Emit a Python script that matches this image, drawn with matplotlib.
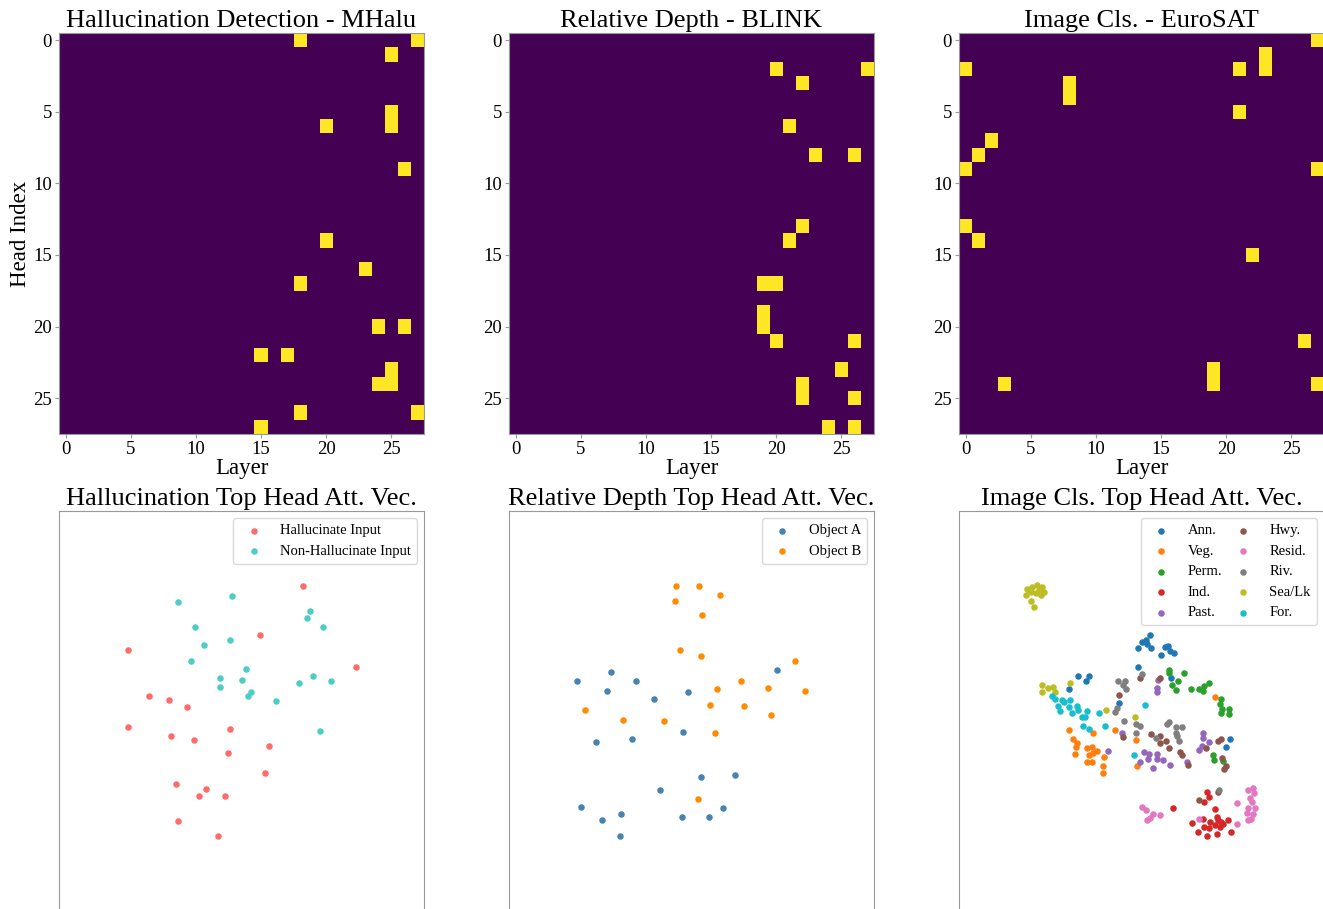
import numpy as np
import matplotlib
matplotlib.use('Agg')
import matplotlib.pyplot as plt

plt.rcParams['font.family'] = ['Liberation Serif', 'DejaVu Serif']

# ---------------- heatmap data: (head, layer) cells that are selected
n_layers = 28
n_heads = 28

mhalu_cells = [(0, 18), (0, 27), (1, 25), (5, 25), (6, 25), (6, 20), (9, 26),
               (14, 20), (16, 23), (17, 18), (20, 24), (20, 26), (22, 15),
               (22, 17), (23, 25), (24, 25), (24, 24), (26, 18), (26, 27),
               (27, 15)]
blink_cells = [(2, 20), (2, 27), (3, 22), (6, 21), (8, 23), (8, 26), (13, 22),
               (14, 21), (17, 19), (17, 20), (19, 19), (20, 19), (21, 20),
               (21, 26), (23, 25), (24, 22), (25, 22), (25, 26), (27, 24),
               (27, 26)]
eurosat_cells = [(0, 27), (2, 0), (2, 21), (1, 23), (2, 23), (3, 8), (4, 8),
                 (5, 21), (7, 2), (8, 1), (9, 0), (9, 27), (13, 0), (14, 1),
                 (15, 22), (21, 26), (23, 19), (24, 19), (24, 3), (24, 27)]

heat_titles = ['Hallucination Detection - MHalu', 'Relative Depth - BLINK',
               'Image Cls. - EuroSAT']

# ---------------- scatter data (2-D embedding coordinates)
hal_x = [745, 615, 218, 902, 282, 341, 397, 218, 526, 348, 417, 642, 520, 629, 362, 454, 433, 509, 369, 490]
hal_y = [318, 465, 510, 561, 648, 659, 680, 741, 747, 767, 779, 797, 820, 878, 912, 927, 949, 947, 1023, 1069]
nonhal_x = [530, 369, 766, 755, 421, 803, 524, 446, 409, 572, 494, 562, 773, 828, 733, 494, 587, 578, 662, 794]
nonhal_y = [347, 367, 392, 413, 442, 440, 481, 496, 544, 568, 594, 599, 587, 602, 608, 622, 636, 648, 662, 754]

objA_x = [816, 317, 217, 393, 305, 550, 446, 272, 380, 533, 691, 587, 465, 229, 348, 292, 531, 613, 655, 346]
objA_y = [569, 577, 602, 603, 632, 637, 657, 785, 776, 757, 884, 890, 931, 982, 1001, 1020, 1012, 1012, 983, 1069]
objB_x = [514, 583, 646, 511, 591, 524, 587, 870, 707, 790, 636, 901, 616, 717, 241, 798, 355, 476, 631, 578]
objB_y = [318, 318, 345, 362, 404, 510, 528, 542, 602, 623, 628, 634, 674, 678, 691, 704, 720, 722, 758, 957]

ann_pts = [(585, 465), (573, 480), (562, 487), (575, 493), (550, 503), (587, 505), (617, 525), (630, 501),
           (640, 498), (645, 513), (657, 518), (550, 561), (649, 595), (370, 587), (403, 587), (393, 602),
           (343, 627), (493, 670), (825, 777), (812, 800)]
veg_pts = [(343, 750), (353, 776), (365, 788), (363, 802), (360, 822), (395, 805), (411, 802), (425, 812),
           (415, 820), (403, 824), (413, 758), (395, 847), (410, 845), (447, 830), (443, 858), (443, 880),
           (480, 750), (543, 780), (545, 858), (780, 650)]
perm_pts = [(643, 570), (641, 580), (687, 578), (668, 603), (650, 616), (662, 631), (708, 628), (733, 628),
            (747, 619), (743, 633), (763, 608), (798, 658), (795, 673), (798, 700), (822, 688), (822, 702),
            (773, 825), (777, 840), (805, 842), (800, 688)]
ind_pts = [(757, 935), (763, 950), (747, 967), (655, 983), (780, 988), (785, 1010), (743, 1017), (765, 1025),
           (790, 1020), (797, 1027), (820, 1020), (710, 1028), (747, 1040), (763, 1043), (780, 1035),
           (795, 1040), (805, 1033), (730, 1057), (757, 1069), (787, 1061), (827, 1055)]
past_pts = [(500, 760), (568, 815), (583, 822), (605, 822), (607, 838), (580, 838), (555, 845), (595, 863),
            (625, 840), (645, 855), (695, 845), (743, 760), (745, 775), (763, 785), (740, 798), (731, 810),
            (608, 600), (605, 623), (607, 635), (458, 813)]
hwy_pts = [(555, 595), (615, 595), (493, 646), (505, 772), (588, 763), (615, 767), (632, 782), (615, 788),
           (641, 805), (675, 815), (682, 825), (700, 855), (790, 782), (798, 778), (753, 803), (800, 833),
           (813, 858), (807, 868), (732, 960), (790, 937)]
resid_pts = [(560, 980), (573, 990), (593, 1003), (615, 1005), (585, 1013), (577, 1020), (847, 968),
             (880, 930), (893, 923), (897, 940), (885, 953), (890, 965), (880, 985), (900, 985), (875, 1000),
             (893, 1003), (880, 1020), (887, 1017), (845, 1032), (732, 1017)]
riv_pts = [(560, 583), (490, 602), (510, 602), (513, 628), (505, 615), (480, 695), (487, 685), (508, 723),
           (543, 732), (555, 738), (543, 760), (603, 773), (635, 732), (643, 725), (663, 740), (680, 740),
           (663, 758), (667, 768), (673, 782), (793, 930)]
sea_pts = [(217, 327), (231, 321), (247, 316), (261, 322), (267, 336), (259, 346), (244, 339), (229, 336),
           (214, 344), (227, 362), (237, 382), (251, 329), (254, 339), (262, 615), (262, 635), (280, 625),
           (293, 620), (300, 635), (344, 608), (452, 689), (539, 712)]
for_pts = [(290, 648), (300, 658), (310, 678), (315, 692), (320, 660), (327, 665), (345, 660), (343, 682),
           (350, 700), (365, 678), (370, 690), (380, 710), (390, 710), (397, 692), (385, 738), (403, 747),
           (433, 700), (450, 738), (538, 825), (570, 675)]

euro_labels = ['Ann.', 'Veg.', 'Perm.', 'Ind.', 'Past.', 'Hwy.', 'Resid.', 'Riv.', 'Sea/Lk', 'For.']
euro_groups = [ann_pts, veg_pts, perm_pts, ind_pts, past_pts, hwy_pts, resid_pts, riv_pts, sea_pts, for_pts]

scatter_titles = ['Hallucination Top Head Att. Vec.', 'Relative Depth Top Head Att. Vec.',
                  'Image Cls. Top Head Att. Vec.']

# ---------------- figure
W, H = 1323, 909
fig = plt.figure(figsize=(W / 100, H / 100), dpi=100)

lefts = [59, 509, 959]
aw, ah = 365, 401
spine_col = '0.6'

def make_ax(left_px, top_px):
    return fig.add_axes([left_px / W, (H - top_px - ah) / H, aw / W, ah / H])

# top row: heatmaps
for i, cells in enumerate([mhalu_cells, blink_cells, eurosat_cells]):
    ax = make_ax(lefts[i], 33)
    grid = np.zeros((n_heads, n_layers))
    for r, c in cells:
        grid[r, c] = 1
    ax.imshow(grid, cmap='viridis', aspect='auto', interpolation='nearest')
    ax.set_xticks(range(0, n_layers, 5))
    ax.set_yticks(range(0, n_heads, 5))
    ax.tick_params(labelsize=13.5, length=3, color=spine_col, pad=2)
    ax.set_xlabel('Layer', fontsize=16.5, labelpad=0)
    if i == 0:
        ax.set_ylabel('Head Index', fontsize=16.5, labelpad=2)
    ax.set_title(heat_titles[i], fontsize=19, pad=4)
    for s in ax.spines.values():
        s.set_color(spine_col)

# bottom row: scatter plots
sc_axes = []
for i in range(3):
    ax = make_ax(lefts[i], 511)
    ax.set_xlim(12, 1107)
    ax.set_ylim(1296, 93)
    ax.set_xticks([])
    ax.set_yticks([])
    ax.set_title(scatter_titles[i], fontsize=19, pad=4)
    for s in ax.spines.values():
        s.set_color(spine_col)
    sc_axes.append(ax)

ms = 22
ax = sc_axes[0]
ax.scatter(hal_x, hal_y, s=ms, color='#FF6B6B', linewidths=0, label='Hallucinate Input')
ax.scatter(nonhal_x, nonhal_y, s=ms, color='#4ECDC4', linewidths=0, label='Non-Hallucinate Input')
ax.legend(loc='upper right', fontsize=10.5, framealpha=1, edgecolor='0.85')

ax = sc_axes[1]
ax.scatter(objA_x, objA_y, s=ms, color='steelblue', linewidths=0, label='Object A')
ax.scatter(objB_x, objB_y, s=ms, color='darkorange', linewidths=0, label='Object B')
ax.legend(loc='upper right', fontsize=10.5, framealpha=1, edgecolor='0.85')

ax = sc_axes[2]
tab = plt.get_cmap('tab10')
for k, (lab, pts) in enumerate(zip(euro_labels, euro_groups)):
    xs = [p[0] for p in pts]
    ys = [p[1] for p in pts]
    ax.scatter(xs, ys, s=ms, color=tab(k), linewidths=0, label=lab)
ax.legend(loc='upper right', fontsize=10.5, ncol=2, columnspacing=0.45,
          framealpha=1, edgecolor='0.85')

fig.savefig('out.png', dpi=100)
